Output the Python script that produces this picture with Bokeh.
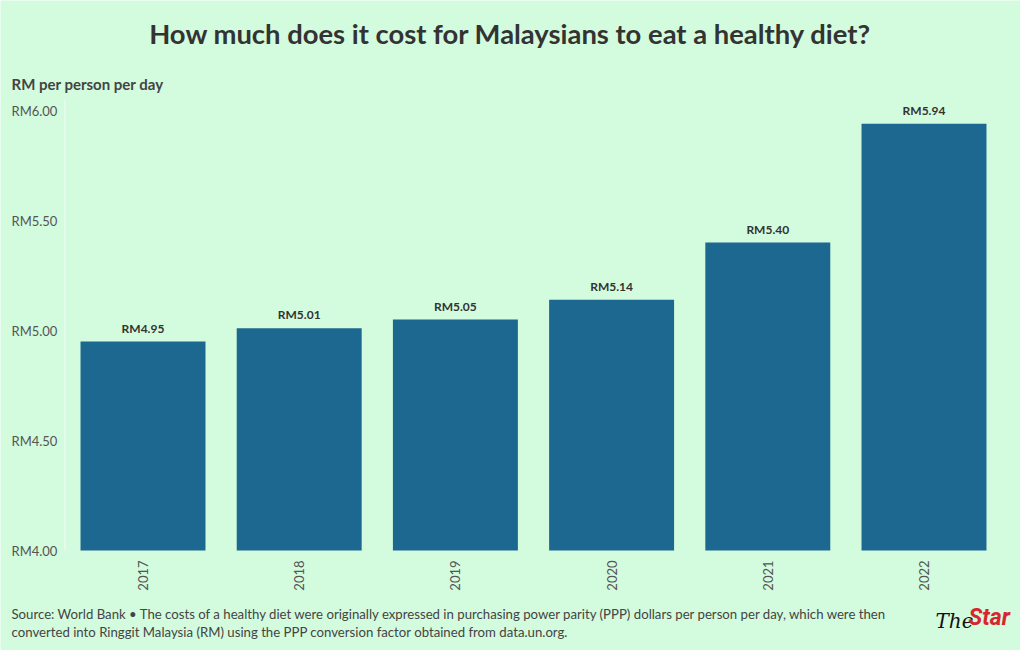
from bokeh.plotting import figure
from bokeh.models import ColumnDataSource, Label, Range1d
from bokeh.embed import file_html
from bokeh.resources import INLINE
from bokeh.core.properties import value

# ---- data ----
years = ["2017", "2018", "2019", "2020", "2021", "2022"]
costs = [4.95, 5.01, 5.05, 5.14, 5.40, 5.94]
y_ticks = [4.0, 4.5, 5.0, 5.5, 6.0]

title_text = "How much does it cost for Malaysians to eat a healthy diet?"
subtitle_text = "RM per person per day"
footer_lines = [
    "Source: World Bank \u2022 The costs of a healthy diet were originally expressed in purchasing power parity (PPP) dollars per person per day, which were then",
    "converted into Ringgit Malaysia (RM) using the PPP conversion factor obtained from data.un.org.",
]

BG = "#d3fbdd"
BAR = "#1d6891"
FONT = "Lato"

W, H = 1020, 650
# layout (page px): category step and first centre, value scale
X_FIRST, X_STEP = 142.5, 156.2
Y_BASE_PX, PX_PER_UNIT = 550.0, 220.0
Y0 = 4.0

x_start = (0 - X_FIRST) / X_STEP
x_end = (W - X_FIRST) / X_STEP
y_top = Y0 + Y_BASE_PX / PX_PER_UNIT
y_bot = Y0 - (H - Y_BASE_PX) / PX_PER_UNIT

def dx(px):
    return (px - X_FIRST) / X_STEP
def dy(py):
    return Y0 + (Y_BASE_PX - py) / PX_PER_UNIT

p = figure(width=W, height=H, x_range=Range1d(x_start, x_end), y_range=Range1d(y_bot, y_top),
           output_backend="svg", toolbar_location=None, min_border=0)
p.background_fill_color = BG
p.border_fill_color = BG
p.outline_line_color = None
p.grid.grid_line_color = None
p.axis.visible = False

xpos = list(range(len(years)))
labels = ["RM%.2f" % c for c in costs]
src = ColumnDataSource(dict(x=xpos, top=costs, label=labels, year=years))

# faint axis line at start of first category band
p.segment(x0=[-0.5], y0=[Y0], x1=[-0.5], y1=[y_ticks[-1] + 0.05], line_color="#e9fbee", line_width=1.5)

p.vbar(x="x", top="top", bottom=Y0, width=0.8, source=src, fill_color=BAR, line_color=None)
p.text(x="x", y="top", text="label", source=src, y_offset=-6,
       text_align="center", text_baseline="bottom",
       text_font=value(FONT), text_font_style="bold", text_font_size="12px", text_color="#333333")

# x tick labels (rotated)
p.text(x="x", y=Y0, text="year", source=src, y_offset=10, angle=1.5708,
       text_align="right", text_baseline="middle",
       text_font=value(FONT), text_font_size="13px", text_color="#555555")

# y tick labels
ysrc = ColumnDataSource(dict(y=y_ticks, t=["RM%.2f" % t for t in y_ticks]))
p.text(x=dx(11), y="y", text="t", source=ysrc, text_align="left", text_baseline="middle",
       text_font=value(FONT), text_font_size="13px", text_color="#555555")

def add_label(text, x, y, size, color="#333333", style="normal", align="left", baseline="middle", font=FONT):
    p.add_layout(Label(x=dx(x), y=dy(y), text=text, text_font=font, text_font_size=size,
                       text_font_style=style, text_color=color, text_align=align,
                       text_baseline=baseline))

add_label(title_text, 510, 33, "27.4px", "#333333", "bold", "center")
add_label(subtitle_text, 11, 83, "15px", "#444444", "bold")
add_label(footer_lines[0], 11, 613, "13.2px", "#444444")
add_label(footer_lines[1], 11, 631, "13.2px", "#444444")
# logo
add_label("The", 973, 620, "20px", "#111111", "italic", "right", font="DejaVu Serif")
add_label("Star", 968, 617, "23px", "#d9262c", "bold italic", "left", font="Roboto")

open("out.html", "w").write(file_html(p, INLINE))
